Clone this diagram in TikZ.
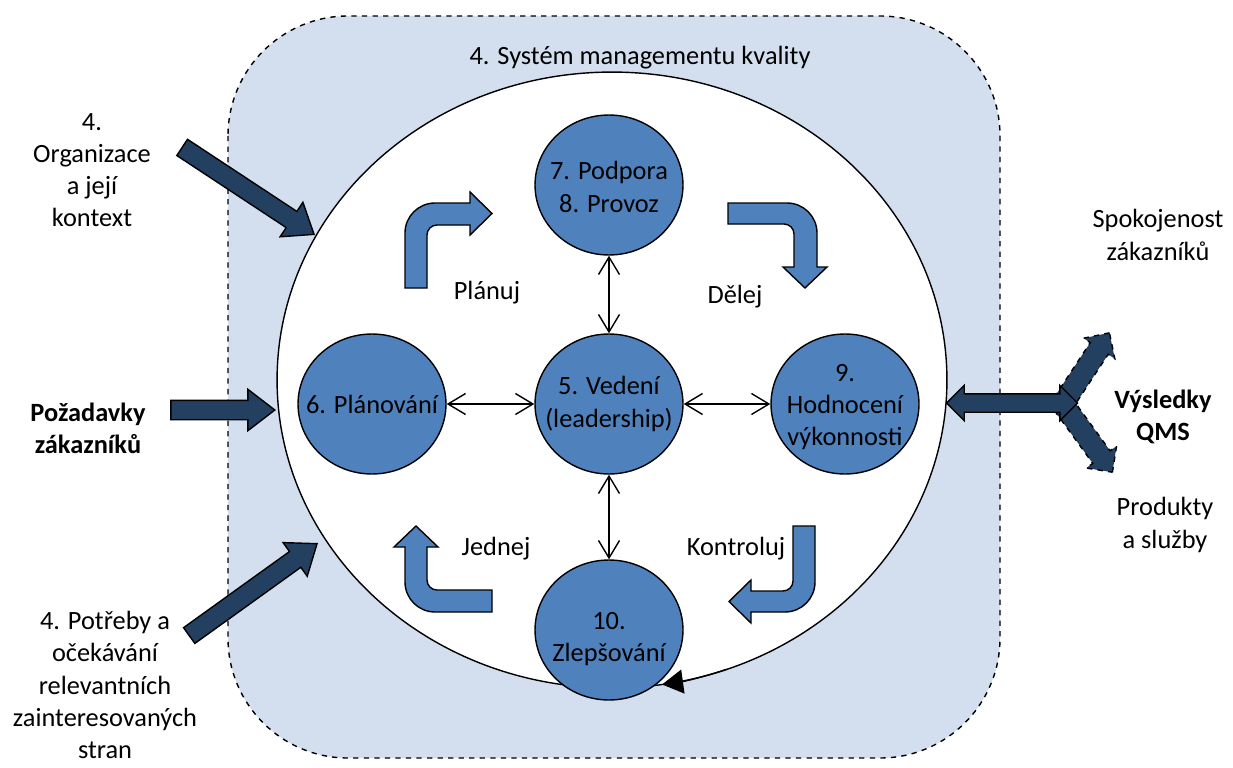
\documentclass[tikz,border=0pt]{standalone}
\usepackage{fontspec}
\setmainfont{Carlito}
\usetikzlibrary{shapes.geometric,shapes.arrows,arrows.meta}
\definecolor{svetla}{RGB}{211,223,238}
\definecolor{modra}{RGB}{79,129,189}
\definecolor{tmava}{RGB}{36,64,97}
\begin{document}
\begin{tikzpicture}[x=0.02cm, y=0.02cm, font=\fontsize{15}{18.3}\selectfont]
\tikzset{kruh/.style={draw, ellipse, fill=modra, line width=0.8pt, minimum width=2.96cm, minimum height=2.8cm, inner sep=0pt},
sipka/.style={draw, single arrow, fill=tmava, line width=0.8pt, single arrow head extend=0.22cm, single arrow tip angle=75, inner xsep=0pt, inner ysep=0.18cm, anchor=tip},
ohyb/.style={draw, fill=modra, line width=0.8pt},
vazba/.style={line width=0.8pt, {Straight Barb[length=0.35cm, width=0.42cm]}-{Straight Barb[length=0.35cm, width=0.42cm]}},
popis/.style={align=center}}
\useasboundingbox (0,0) rectangle (1233,-767);
\draw[dashed, fill=svetla, rounded corners=2.4cm, line width=0.8pt] (228,-16) rectangle (1000,-758);
\node[draw, ellipse, fill=white, line width=0.8pt, minimum width=13.4cm, minimum height=12.32cm, inner sep=0pt] (Q) at (612,-380) {};
\node (T) at (640,-58) {4. Systém managementu kvality};
\node[kruh, label={[popis, yshift=-0.04cm]center:7. Podpora\\8. Provoz}] (K7) at (609,-185) {};
\node[kruh, label={[popis]center:5. Vedení\\(leadership)}] (K5) at (609,-404) {};
\node[kruh, label={[popis]center:6. Plánování}] (K6) at (372,-404) {};
\node[kruh, label={[popis, yshift=-0.06cm]center:9.\\Hodnocení\\výkonnosti}] (K9) at (845,-404) {};
\node[kruh, label={[popis, yshift=-0.18cm]center:10.\\Zlepšování}] (K10) at (609,-630) {};
\draw[vazba] (K7) -- (K5);
\draw[vazba] (K6) -- (K5);
\draw[vazba] (K5) -- (K9);
\draw[vazba] (K5) -- (K10);
\draw[line width=0.8pt, -{Triangle[length=0.42cm, width=0.48cm]}] (Q.center) ++(-70:6.7cm and 6.16cm) arc[start angle=-70, end angle=-81.4, x radius=6.7cm, y radius=6.16cm];
\draw[ohyb] (405,-288) -- (405,-233) arc[start angle=180, end angle=90, radius=0.6cm] -- (470,-203) -- (470,-192) -- (492,-213.5) -- (470,-235) -- (470,-225) -- (437,-225) arc[start angle=90, end angle=180, radius=0.2cm] -- (427,-288) -- cycle;
\draw[ohyb] (728,-203) -- (787,-203) arc[start angle=90, end angle=0, radius=0.6cm] -- (817,-267) -- (827,-267) -- (805,-288) -- (783,-267) -- (794,-267) -- (794,-234) arc[start angle=0, end angle=90, radius=0.2cm] -- (728,-224) -- cycle;
\draw[ohyb] (492,-590) -- (437,-590) arc[start angle=270, end angle=180, radius=0.2cm] -- (427,-547) -- (438,-547) -- (416,-526) -- (394,-547) -- (405,-547) -- (405,-582) arc[start angle=180, end angle=270, radius=0.6cm] -- (492,-612) -- cycle;
\draw[ohyb] (793,-526) -- (815,-526) -- (815,-582) arc[start angle=0, end angle=-90, radius=0.6cm] -- (751,-612) -- (751,-623) -- (729,-601.5) -- (751,-580) -- (751,-591) -- (783,-591) arc[start angle=-90, end angle=0, radius=0.2cm] -- cycle;
\node[popis] (P1) at (487,-293) {Plánuj};
\node[popis] (P2) at (735,-297) {Dělej};
\node[popis] (P3) at (496,-549) {Jednej};
\node[popis] (P4) at (736,-549) {Kontroluj};
\node[sipka, rotate=-33.4, minimum height=3.16cm] (S1) at (315,-235) {};
\node[sipka, minimum height=2.08cm] (S2) at (276,-410) {};
\node[sipka, rotate=35.7, minimum height=3.15cm] (S3) at (318,-543) {};
\node[popis] (L1) at (92,-170) {4.\\Organizace\\a její\\kontext};
\node[popis, font=\fontsize{15}{18.3}\selectfont\bfseries] (L2) at (88,-428) {Požadavky\\zákazníků};
\node[popis] (L3) at (105,-685) {4. Potřeby a\\očekávání\\relevantních\\zainteresovaných\\stran};
\node[sipka, dashed, rotate=56.7, inner ysep=0.2cm, single arrow head extend=0.16cm, single arrow tip angle=90, minimum height=1.75cm] (V1) at (1110,-332) {};
\node[sipka, dashed, rotate=-54, inner ysep=0.2cm, single arrow head extend=0.16cm, single arrow tip angle=90, minimum height=1.73cm] (V2) at (1113,-473) {};
\node[draw, double arrow, fill=tmava, line width=0.8pt, minimum height=2.62cm, double arrow head extend=0.17cm, inner xsep=0pt, inner ysep=0.17cm] (D) at (1012,-403) {};
\node[popis] (R1) at (1158,-235) {Spokojenost\\zákazníků};
\node[popis, font=\fontsize{15}{18.3}\selectfont\bfseries] (R2) at (1163,-417) {Výsledky\\QMS};
\node[popis] (R3) at (1165,-525) {Produkty\\a služby};
\end{tikzpicture}
\end{document}
